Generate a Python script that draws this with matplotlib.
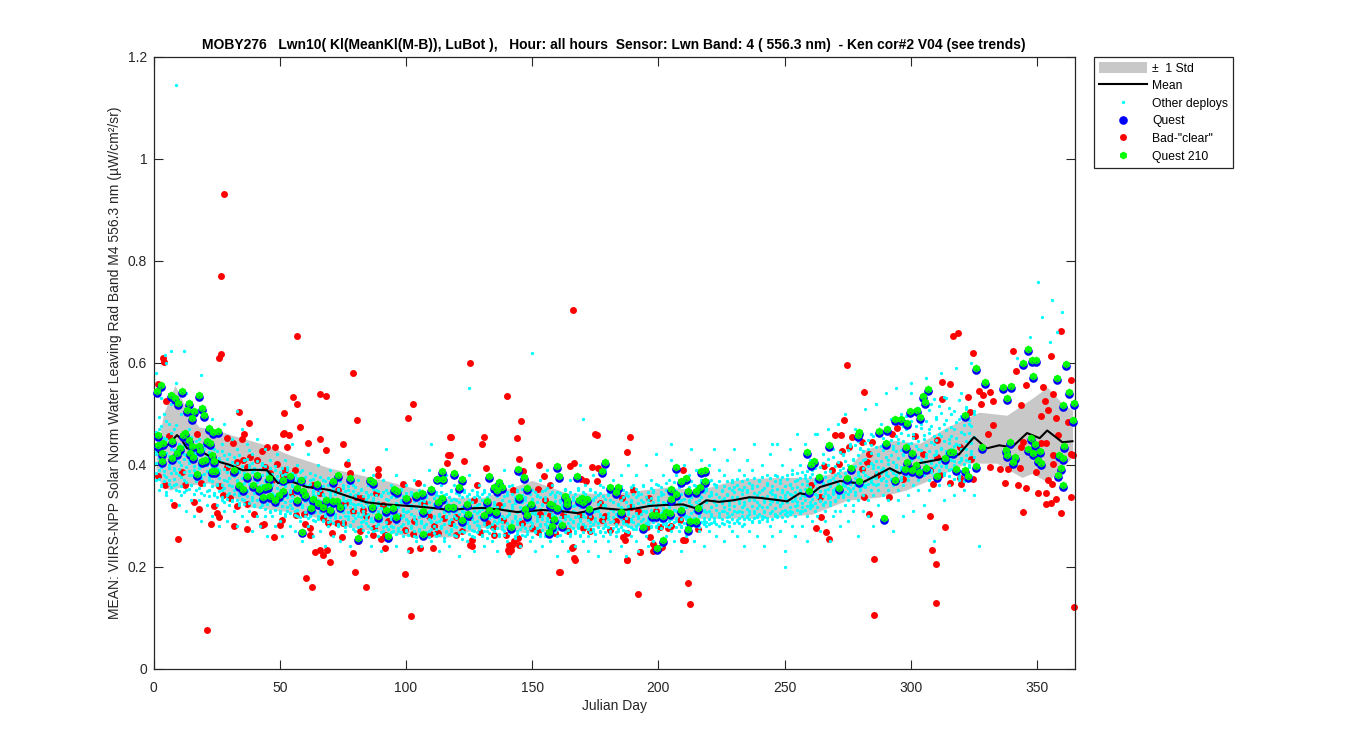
import matplotlib
matplotlib.use("Agg")
import matplotlib.pyplot as plt
import matplotlib.transforms as mtrans
from matplotlib.patches import Patch
from matplotlib.lines import Line2D
import numpy as np

plt.rcParams['font.family'] = ['Liberation Sans', 'DejaVu Sans']

title = 'MOBY276   Lwn10( Kl(MeanKl(M-B)), LuBot ),   Hour: all hours  Sensor: Lwn Band: 4 ( 556.3 nm)  - Ken cor#2 V04 (see trends)'
xlabel = 'Julian Day'
ylabel = 'MEAN: VIIRS-NPP Solar Norm Water Leaving Rad Band M4 556.3 nm (µW/cm²/sr)'
x_ticks = [0, 50, 100, 150, 200, 250, 300, 350]
y_ticks = [0, 0.2, 0.4, 0.6, 0.8, 1, 1.2]
y_tick_labels = ['0', '0.2', '0.4', '0.6', '0.8', '1', '1.2']

mean_days = [2, 3.8, 6, 9.3, 11, 13.3, 17, 21, 26.3, 30, 35.4, 40, 45, 49.3, 55.2, 60.8, 65, 69.9, 77, 84.5, 92, 104.3, 110.7, 117.4, 124, 130.5, 137, 144, 149, 154, 161, 167.7, 172, 176.8, 186, 191, 196.6, 203, 209.7, 214.4, 219, 224, 229.5, 236, 240, 248, 251, 256, 260, 264, 272, 280, 286, 291.6, 295.6, 303.5, 311, 319, 325, 330, 335, 340, 346, 351, 354, 360, 364]
mean_vals = [.425, .432, .44, .458, .45, .432, .43, .42, .405, .40, .389, .39, .389, .364, .366, .356, .354, .350, .338, .326, .322, .318, .315, .311, .314, .315, .312, .307, .309, .311, .309, .305, .309, .315, .311, .314, .319, .321, .322, .315, .330, .327, .330, .336, .335, .330, .328, .344, .340, .356, .368, .363, .378, .393, .383, .403, .41, .42, .454, .432, .438, .434, .462, .452, .467, .444, .446]

std_up_days = [1, 4, 8.5, 13, 18, 24, 31, 45, 54, 70, 91, 117, 130.5, 150, 164, 183, 203, 216, 229.5, 236, 248, 261, 274.6, 281, 293, 303.5, 314, 327, 338, 348, 354, 360, 364]
std_up_vals = [.42, .50, .556, .51, .474, .47, .458, .438, .419, .393, .37, .336, .336, .369, .344, .344, .356, .35, .369, .373, .375, .375, .389, .428, .448, .442, .473, .503, .497, .53, .552, .52, .507]
std_lo_days = [1, 3, 6.5, 14, 22, 38, 58, 78, 104, 117, 130.5, 148, 170, 183, 191, 203, 217.6, 236, 248, 261, 274.6, 287, 298, 307, 322, 334, 344, 348, 354, 364]
std_lo_vals = [.39, .36, .35, .36, .364, .317, .305, .277, .258, .258, .277, .266, .277, .281, .277, .291, .295, .295, .297, .303, .33, .336, .35, .369, .403, .403, .375, .383, .366, .415]

quest_points = [
(1.2,.541),(3,.553),(6.8,.532),(8.5,.527),(9.8,.517),(11.1,.541),(13.1,.504),(14.2,.517),(15.1,.488),(16.2,.502),(18.1,.532),(19.1,.508),(20.1,.494),(22.1,.468),(23.7,.461),(25.7,.463),
(1.9,.455),(1.9,.435),(3.6,.438),(3.2,.419),(3.2,.403),(7.2,.442),(7.2,.41),(9.2,.419),(10.5,.429),(11.5,.455),(12.5,.458),(14.2,.445),(15.1,.432),(14.4,.419),(15.5,.412),(18.1,.432),(18.4,.425),(19.1,.403),(20.4,.406),(21,.442),(22.4,.438),(23,.416),(24,.404),(17.1,.378),(23,.383),(24.3,.383),
(32,.386),(34,.357),(35.3,.349),(37.1,.373),(39.3,.357),(41.1,.376),(41.9,.349),(43.5,.332),(44.1,.352),(45.9,.37),(45.5,.354),(46.1,.334),(48.1,.327),(49.8,.337),(51.1,.367),(51.1,.345),(54,.373),(58.3,.367),(57,.35),(57,.327),(59.3,.345),(60,.337),(63,.329),(62.2,.311),(64.9,.358),(65,.321),(67.2,.314),(68.2,.327),(71,.324),(71.2,.365),(73.2,.375),(72.8,.325),(73.8,.314),(77.8,.37),(70.1,.308),(85.7,.367),(87,.362),(86.4,.314),(89,.296),(92,.308),(95,.312),(95.9,.293),(95.4,.349),(96.3,.344),(100.2,.331),(104,.336),(106.2,.34),(106.8,.306),(110.1,.349),(112.1,.369),(114.1,.383),(114.8,.369),(112.8,.323),(114.1,.331),(116.7,.314),(58.9,.265),(93,.257),(106.8,.26),(81.1,.252),
(119,.38),(122,.368),(121.1,.353),(118.7,.314),(124,.319),(122,.288),(124.7,.299),(130.9,.298),(133,.308),(135.6,.303),(132.2,.325),(133,.374),(135,.353),(136.9,.363),(137.9,.352),(135.9,.347),(141.6,.274),(144.2,.387),(146.8,.372),(148,.35),(144.9,.333),(149.7,.319),(147.1,.309),(147.8,.297),(159.9,.393),(160.7,.373),(167.8,.373),(157,.319),(157.7,.318),(159.9,.311),(162.9,.335),(163.9,.327),(163.9,.319),(168.6,.327),(169.8,.331),(170,.323),(171.9,.329),(172.6,.309),(158.7,.289),(157.9,.275),(156.7,.264),(161.9,.278),(178.8,.401),(177.7,.384),(181,.353),(183.8,.352),(183,.342),(185,.304),(193.7,.273),(197.3,.298),(199.2,.298),(201.9,.295),(202.9,.304),(204.5,.301),(201.9,.249),(199.6,.233),(204.8,.349),(206.8,.338),(204.8,.329),(206.8,.391),(208.8,.365),(210.9,.37),(211.8,.345),(214.7,.345),(216.4,.353),(217,.384),(218.6,.386),(218.6,.365),(208.8,.308),(215.7,.311),(212.4,.286),(214.7,.286),(211.8,.27),
(258.7,.421),(261.7,.404),(260.6,.397),(263.7,.372),(259.7,.345),(267.6,.435),(271.6,.35),(274.5,.37),(276.2,.389),(279.5,.365),(279.5,.46),(278.9,.454),(287.3,.463),(290.6,.466),(290,.438),(289.4,.291),(293.6,.367),(293.9,.486),(295.9,.486),(298.5,.478),(299.8,.501),(302.5,.504),(303.5,.489),(304.6,.53),(305.5,.52),(306.6,.545),(297.9,.431),(300.5,.419),(297.6,.388),(298.5,.401),(300.5,.386),(302,.396),(303.3,.382),(305.8,.389),(310.4,.374),(313.7,.41),(315.4,.422),(316.5,.421),(317.7,.388),(321.4,.385),(322.7,.374),(321.6,.494),(325.6,.586),(325.6,.393),(328.2,.431),(329.5,.558),(336.5,.548),(339.8,.55),(337.9,.527),(339.2,.44),(337.5,.425),(337.9,.416),(341.4,.412),(340.5,.402),(346.4,.623),(344.5,.595),(347.8,.601),(349.7,.601),(348.4,.571),(347.5,.448),(346.4,.427),(349.1,.437),(348.4,.419),(351,.423),(350.4,.406),(351.7,.399),(357.7,.567),(360.3,.514),(361.6,.594),(362.7,.538),(364.7,.517),(364.3,.483),(358.6,.416),(360.6,.432),(360.3,.409),(359.6,.389),(358.3,.376),(360.3,.357)]

bad_points = [
(28,.932),(26.7,.771),(166,.704),(57,.653),(125.3,.6),(21,.075),(102,.103),(212.5,.126),(211.6,.167),(192,.147),(285.5,.105),(285.5,.214),(310,.128),(310,.206),(308.5,.232),(364.5,.12),
(3.9,.61),(4.3,.602),(26.6,.618),(26,.61),(79.1,.579),(1.9,.558),(55.1,.532),(57,.52),(65.9,.538),(68.2,.535),(102.9,.52),(34,.503),(51.8,.501),(80.7,.488),(100.9,.491),(37.9,.481),(58.1,.474),(51.8,.463),(51.1,.46),(36,.461),(53.8,.459),(66.1,.45),(61,.442),(75.2,.44),(53,.435),(68.2,.429),(117.4,.455),(116.5,.419),(116.1,.403),(29.2,.452),(34.9,.45),(31.6,.442),(6.3,.456),(17.1,.461),(4.8,.525),(140,.535),
(76.7,.401),(89,.391),(89,.38),(56,.389),(48.8,.401),(44.8,.435),(48.1,.435),(42.8,.427),(38.2,.416),(35.6,.409),(29,.396),(1.9,.378),(11.1,.386),(4.5,.36),(12.5,.36),(19,.365),(26,.359),(27.6,.34),(30.3,.334),(8.1,.321),(16.2,.326),(18.1,.313),(24.1,.319),(25,.306),(26,.297),(33.2,.319),(36.9,.323),(39.9,.304),(22.8,.283),(32,.28),(37.1,.273),(43.1,.282),(43.9,.284),(50.1,.282),(51,.291),(47.8,.259),(9.8,.255),(56.3,.301),(59.7,.304),(60,.284),(62,.275),(62,.262),(67.2,.295),(69,.286),(70.9,.265),(72.5,.285),(74.9,.286),(74.5,.259),(81.8,.27),(87.3,.275),(87,.262),(90.1,.255),(99.6,.272),(102.9,.264),(109.5,.264),(112.8,.266),(104.9,.365),(98.9,.363),(85.7,.37),(80.4,.337),(83.1,.311),(77.8,.383),(51.4,.38),(31.6,.383),(46.1,.383),
(60.4,.177),(62.8,.16),(64,.228),(66,.232),(67,.223),(68.6,.232),(70,.209),(79,.226),(79.9,.189),(84.2,.16),(81,.25),(99.6,.185),(91.7,.262),(91.7,.236),(101.6,.232),(105.6,.236),(110.7,.236),(112.3,.266),(125.3,.243),(140.4,.233),(142,.242),(144.5,.256),(161,.189),(167,.213),(166.2,.238),(187.6,.213),(192.7,.229),(198.6,.237),(200.6,.236),(210.5,.252),
(145.6,.485),(118,.455),(131,.455),(130,.44),(143.8,.452),(174.8,.461),(175.7,.458),(188.8,.455),(187.6,.424),(117.4,.419),(123,.407),(144.9,.412),(131.8,.393),(152.8,.399),(164.9,.397),(166.6,.403),(173.8,.395),(176.1,.394),(154.8,.378),(146.2,.388),(209.8,.389),(169.5,.372),(171.3,.368),(175.5,.368),(128,.36),(152.1,.353),(157,.36),(185.4,.334),(190,.35),(196.2,.334),(120,.262),(126,.252),(126,.24),(135,.262),(139.8,.261),(142.9,.251),(140.9,.242),(144.9,.242),(140.9,.229),(141.8,.232),(165.8,.236),(166.6,.216),(160.7,.189),(186.7,.252),(192.6,.228),(187.6,.212),(209.8,.252),(197.7,.244),(197.9,.231),(201.3,.238),(215.7,.273),
(125.3,.298),(120,.298),(129.3,.268),(138.5,.291),(142.5,.35),(134.6,.278),(153,.304),(157,.301),(162.3,.301),(152.4,.268),(168.9,.301),(172.8,.298),(176.8,.324),(177.5,.291),(180.8,.272),(186,.298),(189.3,.317),(187.4,.291),(195.3,.278),(200.6,.278),(203.9,.275),(208.5,.291),(196.6,.259),(187.4,.265),(170.2,.275),(186,.259),
(274.8,.595),(281.5,.542),(273.6,.487),(269.8,.458),(272.4,.458),(276.7,.454),(280.8,.445),(284.7,.444),(275.6,.435),(272.8,.426),(283.3,.42),(282.7,.406),(271.6,.401),(265.7,.397),(268.6,.389),(260.4,.36),(263.9,.337),(281.5,.337),(291.4,.337),(286.4,.38),(280.7,.391),(283.5,.304),(264.5,.297),(262.5,.275),(266.4,.267),(267.6,.254),(307.6,.3),(313.6,.277),
(318.7,.658),(316.7,.652),(324.7,.62),(340.5,.624),(359.6,.663),(355.5,.613),(341.7,.584),(363.6,.567),(312.4,.563),(315.4,.558),(345.6,.556),(326.9,.545),(328.6,.537),(331.3,.543),(322.7,.532),(312.4,.528),(332.6,.525),(327.6,.519),(343.8,.518),(352.4,.552),(356.3,.538),(353,.524),(354.4,.507),(351.7,.496),(357.4,.491),(362.3,.484),(323.3,.503),(301.7,.456),(292.7,.461),(294.6,.471),(310.5,.448),(332.6,.478),(330.6,.461),(304.6,.421),(310.5,.416),(319.4,.434),(324,.412),(331.3,.395),(335.2,.391),(338.5,.391),(343.1,.393),(342.5,.36),(345.4,.355),(337.2,.365),(350.4,.344),(353.4,.344),(357.4,.333),(353.7,.323),(355.3,.324),(359.6,.306),(344.5,.308),(363.6,.337),(355.7,.362),(354.4,.37),(349.7,.386),(356.3,.402),(353.7,.442),(344.5,.445),(358.3,.458),(363.6,.421),(320,.363),(315.4,.365),(324.7,.371),(311.5,.38),(307.5,.389),(296.9,.371),(308.6,.362),(319.4,.373),(351.7,.442),(343.8,.435),(356.3,.419),(364.3,.419),
(33,.405),(37,.395),(41,.41),(44,.395),(47,.37),(52,.39),(55,.345),(63,.36),(66,.345),(70,.33),(73,.35),(76,.325),(79,.31),(82,.335),(84,.3),(88,.345),(91,.32),(93,.29),(97,.3),(101,.33),(103,.29),(107,.325),(109,.3),(111,.28),(115,.295),(118,.285),(122,.27),(127,.33),(132,.285),(137,.32),(146,.285),(150,.275),(155,.33),(159,.265),(164,.27),(173,.27),(179,.3),(183,.29),(192,.31),(199,.31),(205,.28)]

other_outliers = [(9,1.145),(350.4,.758),(356,.723),(360,.70),(352,.69),(150,.62),(7,.624),(12,.624),(4.5,.615),(358,.66),(347,.65),(342,.61),(355,.64),(19,.575),(33,.505),(125,.55),(170,.49),(245,.44),(262,.46),(300,.54),(327,.24),(92,.43),(110,.44),(205,.44),(250,.20)]

# wide scatter, one row per Julian day, starting at day 1
other_by_day = [
[.42,.37,.58],[.39,.47,.35],[.44,.36,.53],[.41,.50,.38],[.34,.45,.60],[.37,.48,.40],[.33,.43,.52],[.39,.36,.47],[.35,.41,.56],[.44,.38,.32],
[.40,.34,.50],[.37,.46,.42],[.35,.31,.54],[.41,.38,.47],[.36,.33,.44],[.39,.49,.30],[.42,.35,.37],[.33,.45,.40],[.38,.29,.51],[.36,.43,.34],
[.40,.32,.47],[.37,.35,.44],[.41,.30,.49],[.34,.38,.43],[.36,.32,.46],[.39,.28,.41],[.35,.44,.33],[.37,.31,.48],[.34,.40,.29],[.36,.42,.32],
[.38,.33,.45],[.31,.40,.35],[.37,.28,.43],[.34,.39,.32],[.36,.30,.47],[.33,.41,.38],[.35,.29,.44],[.31,.37,.40],[.33,.27,.42],[.36,.32,.39],
[.30,.38,.45],[.34,.35,.28],[.32,.40,.36],[.37,.30,.43],[.33,.26,.38],[.35,.31,.41],[.30,.36,.33],[.34,.28,.39],[.32,.37,.42],[.35,.29,.31],
[.33,.38,.26],[.30,.36,.41],[.34,.31,.39],[.32,.28,.35],[.36,.33,.44],[.31,.38,.27],[.33,.30,.40],[.35,.29,.37],[.32,.25,.39],[.30,.34,.36],
[.33,.28,.42],[.31,.37,.30],[.35,.26,.34],[.29,.38,.32],[.33,.30,.40],[.31,.27,.35],[.34,.29,.37],[.30,.33,.24],[.32,.36,.28],[.29,.34,.39],
[.31,.26,.35],[.33,.30,.37],[.28,.35,.32],[.31,.25,.38],[.29,.33,.36],[.32,.27,.30],[.30,.35,.41],[.33,.28,.24],[.29,.31,.36],[.27,.34,.32],
[.30,.37,.25],[.32,.28,.35],[.29,.31,.39],[.33,.26,.30],[.28,.34,.36],[.31,.24,.29],[.27,.33,.38],[.30,.35,.28],[.32,.26,.31],[.29,.34,.23],
[.27,.31,.37],[.30,.28,.35],[.33,.25,.32],[.28,.36,.30],[.31,.27,.34],[.29,.24,.38],[.32,.30,.27],[.28,.35,.33],[.30,.26,.31],[.27,.33,.36],
[.31,.29,.23],[.28,.34,.32],[.30,.26,.37],[.33,.29,.25],[.27,.31,.35],[.29,.33,.24],[.32,.28,.36],[.30,.26,.34],[.27,.31,.39],[.29,.35,.25],
[.32,.28,.30],[.26,.34,.37],[.30,.29,.23],[.28,.33,.36],[.31,.25,.34],[.27,.30,.38],[.29,.32,.24],[.33,.27,.35],[.28,.30,.36],[.31,.26,.33],
[.29,.34,.22],[.27,.31,.37],[.30,.28,.35],[.32,.25,.29],[.28,.33,.38],[.30,.26,.35],[.27,.31,.23],[.29,.34,.32],[.31,.28,.36],[.26,.30,.33],
[.29,.35,.24],[.32,.27,.31],[.28,.33,.38],[.30,.25,.35],[.27,.29,.32],[.31,.34,.23],[.29,.26,.36],[.33,.28,.30],[.27,.32,.39],[.30,.25,.34],
[.28,.31,.22],[.32,.29,.36],[.26,.33,.30],[.29,.27,.35],[.31,.24,.38],[.28,.34,.31],[.30,.26,.33],[.27,.32,.37],[.29,.25,.30],[.33,.28,.35],
[.27,.31,.23],[.30,.34,.29],[.28,.26,.37],[.32,.30,.24],[.26,.33,.35],[.29,.28,.39],[.31,.25,.32],[.28,.36,.30],[.30,.27,.34],[.26,.31,.22],
[.29,.33,.38],[.32,.28,.25],[.27,.30,.35],[.30,.34,.23],[.28,.26,.37],[.31,.29,.33],[.27,.32,.24],[.30,.35,.28],[.29,.26,.40],[.32,.30,.25],
[.28,.33,.36],[.26,.31,.23],[.30,.28,.35],[.33,.27,.38],[.29,.25,.31],[.31,.34,.22],[.27,.30,.36],[.29,.32,.26],[.32,.28,.39],[.30,.25,.34],
[.27,.33,.23],[.31,.29,.37],[.28,.35,.26],[.30,.27,.32],[.33,.24,.38],[.29,.31,.35],[.27,.34,.22],[.31,.28,.40],[.29,.33,.26],[.32,.30,.36],
[.28,.25,.38],[.30,.34,.23],[.33,.29,.27],[.28,.36,.31],[.31,.26,.40],[.29,.33,.24],[.32,.28,.37],[.30,.35,.25],[.28,.31,.42],[.33,.27,.36],
[.29,.34,.24],[.31,.30,.38],[.28,.26,.35],[.32,.37,.29],[.30,.27,.41],[.33,.25,.35],[.29,.31,.38],[.31,.36,.27],[.28,.33,.23],[.32,.30,.40],
[.30,.35,.26],[.33,.28,.38],[.29,.32,.43],[.31,.36,.25],[.34,.28,.39],[.30,.33,.27],[.32,.37,.41],[.29,.31,.24],[.33,.35,.28],[.31,.27,.40],
[.34,.30,.37],[.29,.33,.43],[.32,.36,.26],[.30,.28,.39],[.33,.35,.31],[.31,.38,.25],[.29,.34,.41],[.32,.30,.28],[.35,.27,.37],[.31,.33,.43],
[.29,.36,.26],[.33,.31,.39],[.30,.35,.28],[.32,.38,.24],[.35,.30,.41],[.31,.33,.27],[.29,.36,.39],[.33,.31,.44],[.30,.34,.26],[.32,.37,.29],
[.35,.30,.40],[.31,.33,.24],[.29,.38,.36],[.33,.28,.42],[.31,.35,.26],[.34,.30,.38],[.30,.33,.44],[.32,.37,.27],[.35,.31,.40],[.29,.34,.23],
[.33,.38,.30],[.31,.36,.43],[.34,.28,.39],[.30,.33,.26],[.32,.37,.46],[.35,.31,.40],[.31,.34,.28],[.33,.38,.44],[.30,.36,.25],[.34,.32,.41],
[.32,.39,.29],[.35,.31,.37],[.30,.34,.46],[.33,.38,.27],[.36,.32,.42],[.31,.35,.29],[.34,.40,.47],[.32,.37,.25],[.35,.30,.43],[.33,.38,.31],
[.36,.34,.48],[.31,.39,.28],[.34,.36,.42],[.37,.32,.50],[.33,.40,.29],[.35,.37,.44],[.32,.41,.31],[.36,.34,.47],[.33,.38,.26],[.37,.35,.43],
[.34,.41,.31],[.36,.38,.51],[.33,.43,.30],[.37,.35,.46],[.34,.40,.28],[.38,.36,.52],[.35,.42,.32],[.37,.39,.48],[.34,.44,.30],[.38,.36,.54],
[.35,.41,.33],[.39,.37,.49],[.36,.43,.27],[.38,.40,.55],[.35,.45,.33],[.39,.37,.50],[.36,.42,.30],[.40,.38,.47],[.37,.44,.34],[.39,.41,.56],
[.36,.46,.31],[.40,.38,.51],[.37,.43,.35],[.41,.39,.48],[.38,.45,.32],[.40,.42,.57],[.37,.47,.35],[.41,.39,.52],[.38,.44,.25],[.42,.40,.49],
[.39,.46,.36],[.41,.43,.58],[.38,.48,.33],[.42,.40,.53],[.39,.45,.36],[.43,.41,.50],[.40,.47,.34],[.42,.44,.59],[.38,.49,.37],[.41,.43,.54],
[.39,.46,.35],[.43,.41,.51],[.40,.48,.37],[.42,.45,.60],[.39,.50,.34],[.44,.41,.55],[.40,.47,.38],[.43,.45,.52],[.41,.49,.35],[.39,.46,.61],
[.44,.42,.56],[.40,.48,.37],[.43,.51,.34],[.41,.46,.58],[.38,.44,.53],[.42,.49,.36],[.40,.47,.62],[.44,.41,.55],[.39,.50,.37],[.43,.46,.58],
[.41,.48,.35],[.38,.44,.53],[.42,.51,.60],[.40,.46,.37],[.44,.49,.56],[.41,.43,.52],[.39,.47,.62],[.43,.50,.38],[.40,.45,.57],[.42,.48,.53],
[.44,.41,.59],[.40,.47,.38],[.43,.50,.55],[.41,.45,.61],[.42,.48,.52]]

# dense core of the same series, one row per Julian day, starting at day 1
other_core_by_day = [
[.383,.427,.465,.404],[.372,.414,.447,.493],[.396,.358,.436,.475],[.368,.408,.452,.387],[.423,.376,.485,.346],[.394,.441,.363,.417],[.356,.405,.463,.384],[.428,.371,.394,.447],[.362,.416,.383,.478],[.405,.349,.436,.392],
[.376,.423,.358,.454],[.411,.385,.347,.437],[.366,.396,.443,.418],[.352,.428,.387,.404],[.379,.413,.455,.361],[.398,.343,.425,.376],[.416,.367,.446,.385],[.354,.393,.431,.408],[.374,.422,.345,.397],[.403,.362,.438,.381],
[.348,.387,.418,.446],[.376,.407,.339,.425],[.395,.358,.432,.367],[.413,.344,.384,.402],[.363,.426,.336,.393],[.383,.348,.414,.373],[.337,.405,.361,.427],[.392,.354,.418,.326],[.368,.412,.333,.386],[.345,.397,.374,.421],
[.359,.328,.406,.383],[.415,.342,.377,.394],[.331,.368,.403,.352],[.386,.345,.418,.325],[.356,.397,.332,.373],[.409,.364,.322,.384],[.338,.377,.411,.348],[.393,.325,.362,.429],[.352,.385,.337,.403],[.318,.372,.394,.345],
[.366,.331,.408,.383],[.344,.391,.316,.358],[.379,.327,.403,.352],[.335,.367,.397,.313],[.385,.348,.322,.374],[.307,.356,.394,.338],[.363,.327,.382,.345],[.312,.371,.335,.397],[.354,.323,.378,.342],[.386,.306,.362,.331],
[.343,.372,.318,.393],[.327,.358,.304,.381],[.366,.337,.396,.316],[.305,.347,.376,.328],[.358,.314,.384,.338],[.326,.368,.302,.345],[.373,.333,.355,.311],[.297,.342,.386,.323],[.351,.317,.364,.336],[.308,.376,.328,.346],
[.334,.296,.358,.317],[.363,.325,.384,.303],[.314,.347,.292,.372],[.338,.357,.308,.326],[.294,.344,.318,.366],[.353,.307,.328,.376],[.321,.291,.342,.359],[.336,.368,.304,.316],[.288,.327,.351,.373],[.346,.312,.297,.334],
[.318,.356,.286,.329],[.303,.343,.364,.295],[.327,.284,.352,.314],[.345,.298,.322,.367],[.283,.336,.307,.355],[.316,.348,.277,.328],[.293,.331,.358,.308],[.342,.281,.317,.325],[.274,.323,.349,.302],[.336,.296,.314,.357],
[.278,.322,.306,.344],[.328,.287,.353,.297],[.304,.338,.272,.316],[.285,.325,.346,.294],[.318,.268,.337,.303],[.343,.296,.276,.326],[.307,.334,.289,.352],[.271,.316,.298,.341],[.327,.283,.348,.305],[.294,.339,.267,.314],
[.322,.277,.303,.346],[.287,.332,.312,.263],[.306,.345,.274,.321],[.336,.293,.268,.316],[.278,.312,.348,.297],[.325,.286,.264,.336],[.304,.342,.276,.317],[.267,.327,.295,.352],[.313,.284,.338,.302],[.345,.272,.307,.293],
[.286,.323,.262,.336],[.304,.347,.276,.314],[.269,.328,.293,.342],[.316,.283,.336,.258],[.297,.343,.274,.325],[.263,.312,.286,.338],[.328,.277,.302,.347],[.284,.336,.267,.318],[.307,.259,.327,.293],[.274,.342,.313,.287],
[.323,.266,.296,.334],[.288,.316,.347,.273],[.304,.262,.328,.339],[.276,.314,.293,.346],[.332,.284,.257,.308],[.297,.326,.268,.343],[.263,.306,.337,.286],[.318,.274,.294,.348],[.283,.333,.261,.307],[.312,.278,.344,.296],
[.268,.327,.304,.285],[.336,.292,.254,.316],[.277,.346,.308,.267],[.324,.286,.298,.338],[.263,.314,.343,.276],[.302,.272,.327,.293],[.337,.287,.258,.317],[.281,.306,.346,.268],[.323,.274,.297,.336],[.293,.342,.262,.313],
[.269,.318,.284,.347],[.307,.278,.336,.256],[.326,.296,.266,.342],[.283,.314,.348,.273],[.297,.262,.327,.304],[.338,.286,.276,.316],[.264,.306,.344,.293],[.316,.274,.287,.352],[.296,.338,.261,.323],[.277,.312,.346,.286],
[.328,.266,.304,.358],[.287,.343,.273,.314],[.257,.324,.296,.336],[.307,.348,.283,.264],[.273,.316,.339,.293],[.326,.284,.262,.353],[.298,.336,.275,.308],[.263,.314,.347,.287],[.323,.276,.296,.342],[.286,.333,.259,.306],
[.304,.268,.346,.317],[.276,.327,.293,.338],[.337,.284,.263,.313],[.294,.348,.272,.322],[.266,.306,.336,.283],[.318,.278,.296,.354],[.287,.343,.261,.327],[.303,.272,.316,.346],[.328,.293,.267,.336],[.274,.313,.347,.286],
[.297,.262,.326,.344],[.314,.283,.338,.276],[.268,.307,.352,.293],[.332,.286,.272,.316],[.293,.346,.264,.323],[.276,.318,.337,.288],[.308,.266,.343,.297],[.284,.327,.276,.354],[.316,.293,.262,.338],[.267,.306,.346,.283],
[.324,.278,.298,.342],[.292,.336,.273,.314],[.268,.316,.353,.287],[.307,.283,.332,.274],[.336,.263,.296,.346],[.286,.323,.278,.314],[.303,.344,.268,.327],[.276,.298,.338,.356],[.317,.284,.267,.332],[.293,.342,.277,.306],
[.264,.313,.346,.288],[.326,.276,.298,.353],[.284,.337,.303,.268],[.307,.273,.344,.322],[.278,.316,.296,.358],[.336,.286,.272,.313],[.296,.347,.283,.326],[.268,.318,.338,.304],[.327,.277,.293,.356],[.287,.342,.274,.316],
[.306,.273,.336,.352],[.283,.324,.296,.347],[.316,.278,.342,.304],[.274,.327,.358,.293],[.337,.286,.308,.276],[.296,.346,.283,.323],[.312,.278,.354,.334],[.287,.326,.304,.347],[.278,.316,.362,.296],[.336,.293,.283,.323],
[.306,.346,.276,.357],[.284,.327,.314,.342],[.297,.364,.286,.324],[.316,.278,.343,.306],[.282,.336,.354,.293],[.324,.287,.312,.366],[.296,.348,.278,.337],[.307,.283,.356,.326],[.343,.294,.316,.277],[.286,.333,.364,.304],
[.317,.278,.346,.293],[.298,.357,.284,.327],[.336,.306,.288,.367],[.283,.316,.347,.296],[.327,.294,.358,.286],[.304,.342,.278,.323],[.288,.366,.316,.336],[.346,.296,.283,.312],[.307,.354,.287,.327],[.293,.338,.368,.284],
[.316,.286,.347,.304],[.327,.296,.362,.288],[.284,.342,.312,.356],[.336,.297,.367,.306],[.286,.324,.348,.293],[.316,.358,.284,.334],[.298,.343,.306,.368],[.327,.288,.354,.313],[.293,.337,.366,.304],[.346,.286,.318,.357],
[.307,.292,.336,.372],[.324,.353,.296,.286],[.342,.308,.367,.316],[.293,.327,.357,.284],[.313,.346,.298,.372],[.336,.304,.364,.293],[.318,.354,.287,.337],[.306,.344,.373,.296],[.327,.358,.314,.298],[.346,.303,.367,.288],
[.316,.336,.293,.376],[.354,.307,.326,.298],[.338,.364,.316,.296],[.306,.347,.374,.323],[.328,.294,.358,.342],[.314,.368,.304,.337],[.352,.326,.297,.378],[.336,.306,.364,.318],[.298,.346,.376,.324],[.358,.312,.334,.304],
[.326,.372,.308,.346],[.342,.316,.362,.303],[.307,.354,.382,.328],[.336,.318,.368,.346],[.312,.357,.384,.326],[.348,.306,.374,.334],[.324,.363,.316,.386],[.338,.374,.312,.352],[.318,.346,.388,.367],[.356,.326,.376,.314],
[.332,.382,.347,.318],[.364,.324,.393,.343],[.336,.378,.316,.354],[.348,.396,.328,.368],[.322,.364,.404,.338],[.376,.344,.386,.326],[.352,.412,.334,.367],[.336,.388,.358,.326],[.374,.346,.416,.342],[.328,.368,.397,.354],
[.362,.406,.336,.383],[.344,.378,.424,.352],[.336,.394,.366,.418],[.383,.346,.407,.358],[.354,.428,.372,.342],[.392,.363,.436,.348],[.366,.412,.354,.388],[.346,.397,.438,.374],[.418,.362,.386,.446],[.353,.404,.376,.432],
[.386,.358,.426,.394],[.368,.442,.412,.356],[.397,.376,.448,.362],[.422,.366,.404,.438],[.376,.456,.394,.363],[.408,.373,.434,.386],[.362,.418,.462,.396],[.436,.383,.408,.372],[.394,.452,.374,.428],[.416,.368,.467,.386],
[.378,.438,.402,.474],[.448,.392,.372,.418],[.406,.482,.384,.436],[.374,.426,.456,.396],[.442,.386,.414,.488],[.396,.462,.376,.428],[.418,.384,.476,.446],[.386,.436,.404,.496],[.458,.394,.378,.426],[.414,.486,.396,.442],
[.384,.452,.424,.506],[.436,.402,.476,.386],[.398,.512,.446,.416],[.472,.384,.428,.496],[.406,.458,.392,.524],[.438,.416,.486,.394],[.392,.462,.426,.508],[.476,.404,.444,.386],[.418,.528,.396,.456],[.448,.382,.494,.426],
[.406,.472,.388,.516],[.432,.398,.456,.502],[.384,.446,.414,.532],[.468,.396,.426,.488],[.412,.512,.378,.442],[.392,.456,.474,.424],[.436,.372,.506,.408],[.418,.484,.396,.452],[.376,.438,.526,.406],[.464,.414,.388,.496],
[.402,.478,.432,.368],[.446,.386,.514,.418],[.396,.462,.408,.488],[.426,.378,.476,.442],[.454,.416,.506,.392]]

all_rows = [r + c for r, c in zip(other_by_day, other_core_by_day)]
other_days = [d + 1 for d, row in enumerate(all_rows) for _ in row] + [p[0] for p in other_outliers]
other_vals = [v for row in all_rows for v in row] + [p[1] for p in other_outliers]
quest_days, quest_vals = zip(*quest_points)
bad_days, bad_vals = zip(*bad_points)

fig = plt.figure(figsize=(13.5, 7.5), dpi=100)
ax = fig.add_axes([153.5/1350, 1-668.5/750, (1075-153.5)/1350, (668.5-57)/750])

grid_days = sorted(set(std_up_days) | set(std_lo_days))
ax.fill_between(grid_days, np.interp(grid_days, std_lo_days, std_lo_vals),
                np.interp(grid_days, std_up_days, std_up_vals),
                color='#c8c8c8', lw=0, zorder=1)
ax.plot(bad_days, bad_vals, 'o', color='#ff0000', ms=5.0, mew=0, zorder=2, clip_on=False)
ax.plot(other_days, other_vals, 'o', color='#00ffff', ms=2.4, mew=0, zorder=3)
ax.plot(mean_days, mean_vals, '-', color='black', lw=1.5, zorder=4)
ax.plot(quest_days, quest_vals, 'o', color='#0000ff', ms=6.2, mew=0, zorder=5, clip_on=False)
lift = ax.transData + mtrans.ScaledTranslation(0, 1.4/72, fig.dpi_scale_trans)
ax.plot(quest_days, quest_vals, 'h', color='#00ff00', ms=5.7, mew=0, transform=lift, zorder=6, clip_on=False)
ax.plot(quest_days, quest_vals, 'o', color='#1a7a8a', ms=1.2, mew=0, zorder=7, clip_on=False)

ax.set_xlim(0, 365)
ax.set_ylim(0, 1.2)
ax.set_xticks(x_ticks)
ax.set_yticks(y_ticks)
ax.set_yticklabels(y_tick_labels)
ax.tick_params(direction='in', length=6.5, width=0.8, top=True, right=True, labelsize=10, colors='#262626')
ax.tick_params(axis='x', pad=9)
ax.tick_params(axis='y', pad=4.5)
for s in ax.spines.values():
    s.set_linewidth(0.9)
    s.set_color('#262626')
ax.set_xlabel(xlabel, fontsize=10, color='#262626', labelpad=3)
ax.set_ylabel(ylabel, fontsize=10, color='#262626', labelpad=4)
ax.set_title(title, fontsize=10, fontweight='bold', pad=6)

handles = [Patch(facecolor='#c8c8c8', edgecolor='none'),
           Line2D([], [], color='black', lw=1.5),
           Line2D([], [], ls='', marker='o', color='#00ffff', ms=2.4, mew=0),
           Line2D([], [], ls='', marker='o', color='#0000ff', ms=6.2, mew=0),
           Line2D([], [], ls='', marker='o', color='#ff0000', ms=5.0, mew=0),
           Line2D([], [], ls='', marker='h', color='#00ff00', ms=5.7, mew=0)]
labels = ['±  1 Std', 'Mean', 'Other deploys', 'Quest', 'Bad-"clear"', 'Quest 210']
leg = fig.legend(handles, labels, loc='upper left', bbox_to_anchor=(1094/1350, 1-57/750),
                 bbox_transform=fig.transFigure, fontsize=8.7, frameon=True, fancybox=False,
                 edgecolor='#262626', framealpha=1, borderaxespad=0, borderpad=0.42,
                 labelspacing=0.42, handlelength=3.97, handleheight=1.0, handletextpad=0.4)
leg.get_frame().set_linewidth(0.9)

fig.savefig('out.png', dpi=100)
